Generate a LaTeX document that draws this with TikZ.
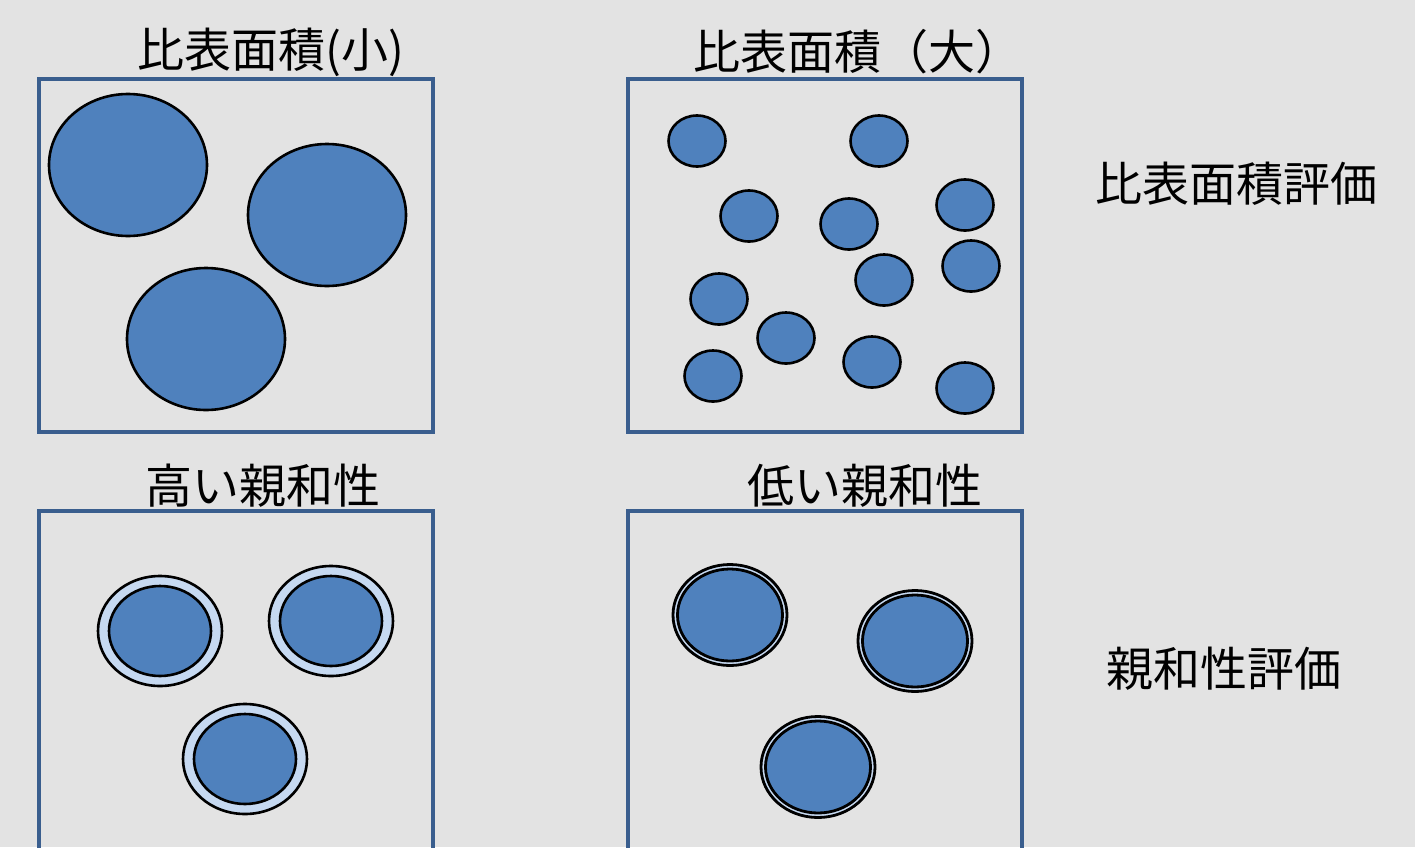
\documentclass[tikz,border=0pt]{standalone}
\usepackage{fontspec}
\setmainfont{Noto Sans CJK JP}
\usetikzlibrary{shapes.geometric}
\definecolor{bg}{HTML}{E3E3E3}
\definecolor{boxc}{HTML}{3A5E8E}
\definecolor{fillb}{HTML}{4F81BD}
\definecolor{ringb}{HTML}{C6D9F1}
\tikzset{
  panel/.style={draw=boxc, line width=2.4pt},
  big/.style={ellipse, draw=black, fill=fillb, line width=1.3pt, minimum width=79pt, minimum height=71pt, inner sep=0pt},
  small/.style={ellipse, draw=black, fill=fillb, line width=1.3pt, minimum width=28.5pt, minimum height=25.5pt, inner sep=0pt},
  hiout/.style={ellipse, draw=black, fill=ringb, line width=1.3pt, minimum width=62pt, minimum height=55pt, inner sep=0pt},
  hiin/.style={ellipse, draw=black, fill=fillb, line width=1.3pt, minimum width=51pt, minimum height=45pt, inner sep=0pt},
  loout/.style={ellipse, draw=black, fill=ringb, line width=1.4pt, minimum width=57pt, minimum height=50.5pt, inner sep=0pt},
  loin/.style={ellipse, draw=black, fill=fillb, line width=1.4pt, minimum width=52.5pt, minimum height=46pt, inner sep=0pt},
  lbl/.style={font=\fontsize{23.5}{28}\selectfont, inner sep=0pt, text=black},
}
\begin{document}
\begin{tikzpicture}[x=0.5pt, y=-0.5pt]
\useasboundingbox (0,0) rectangle (1415,847);
\fill[bg] (0,0) rectangle (1415,847);
\clip (0,0) rectangle (1415,847);
% panels
\draw[panel] (39,79) rectangle (433,432);
\draw[panel] (628,79) rectangle (1022,432);
\draw[panel] (39,870) -- (39,511) -- (433,511) -- (433,870);
\draw[panel] (628,870) -- (628,511) -- (1022,511) -- (1022,870);
% labels
\node[lbl] (t1) at (271,52) {比表面積(小)};
\node[lbl] (t2) at (858,52) {比表面積（大）};
\node[lbl] (t3) at (263,486) {高い親和性};
\node[lbl] (t4) at (865,486) {低い親和性};
\node[lbl] (r1) at (1236,184) {比表面積評価};
\node[lbl] (r2) at (1224,669) {親和性評価};
% big particles
\node[big] (b1) at (128,165) {};
\node[big] (b2) at (327,215) {};
\node[big] (b3) at (206,339) {};
% small particles
\node[small] (s1) at (697,141) {};
\node[small] (s2) at (879,141) {};
\node[small] (s3) at (749,216) {};
\node[small] (s4) at (849,224) {};
\node[small] (s5) at (965,205) {};
\node[small] (s6) at (884,280) {};
\node[small] (s7) at (971,266) {};
\node[small] (s8) at (719,299) {};
\node[small] (s9) at (786,338) {};
\node[small] (s10) at (872,362) {};
\node[small] (s11) at (713,376) {};
\node[small] (s12) at (965,388) {};
% high affinity
\node[hiout] (h1o) at (160,631) {};
\node[hiin]  (h1i) at (160,631) {};
\node[hiout] (h2o) at (331,621) {};
\node[hiin]  (h2i) at (331,621) {};
\node[hiout] (h3o) at (245,759) {};
\node[hiin]  (h3i) at (245,759) {};
% low affinity
\node[loout] (l1o) at (730,615) {};
\node[loin]  (l1i) at (730,615) {};
\node[loout] (l2o) at (915,641) {};
\node[loin]  (l2i) at (915,641) {};
\node[loout] (l3o) at (818,767) {};
\node[loin]  (l3i) at (818,767) {};
\end{tikzpicture}
\end{document}
